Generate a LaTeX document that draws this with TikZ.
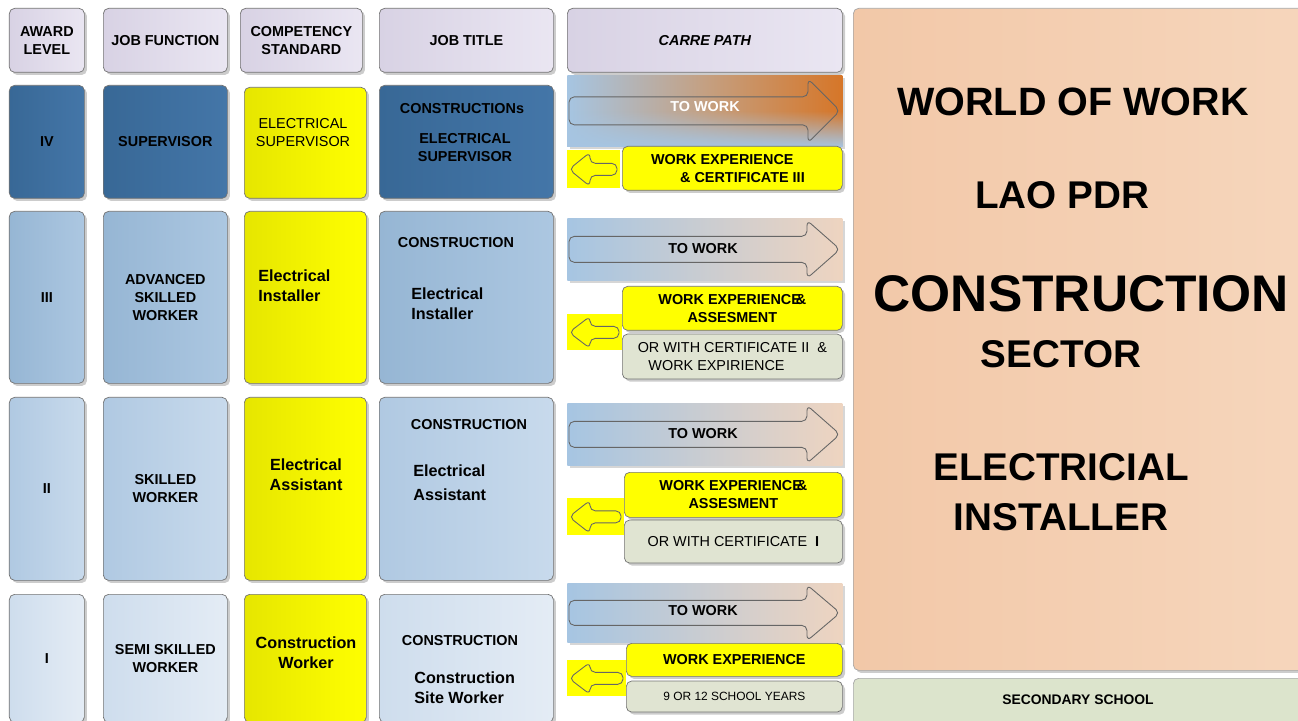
\documentclass[tikz,border=0pt]{standalone}
\usepackage{fontspec}
\setmainfont{Liberation Sans}
\usepackage{tikz}
\usetikzlibrary{positioning}
\usetikzlibrary{shadows}
\usetikzlibrary{fadings}

\definecolor{hdrdark}{RGB}{216,210,228}
\definecolor{hdrlight}{RGB}{234,230,242}
\definecolor{fourdark}{RGB}{56,104,150}
\definecolor{fourlight}{RGB}{68,118,168}
\definecolor{threedark}{RGB}{150,182,212}
\definecolor{threelight}{RGB}{172,199,225}
\definecolor{twodark}{RGB}{176,201,226}
\definecolor{twolight}{RGB}{200,218,236}
\definecolor{onedark}{RGB}{206,221,237}
\definecolor{onelight}{RGB}{228,236,245}
\definecolor{yeldark}{RGB}{230,230,0}
\definecolor{yellight}{RGB}{255,255,0}
\definecolor{bandblue}{RGB}{166,197,226}
\definecolor{bandpeach}{RGB}{238,212,192}
\definecolor{bandorange}{RGB}{214,118,40}
\definecolor{bandmid}{RGB}{196,160,130}
\definecolor{optgray}{RGB}{224,228,210}
\definecolor{peachdark}{RGB}{242,200,168}
\definecolor{peachlight}{RGB}{246,214,188}
\definecolor{sage}{RGB}{220,228,204}

\tikzset{
	basebox/.style={rectangle, anchor=north west, inner sep=0pt, rounded corners=3pt, draw=black!55, align=center, font=\bfseries\fontsize{8.2}{10.2}\selectfont, drop shadow={shadow xshift=1.5pt, shadow yshift=-1.5pt, fill=black!40, opacity=.5}},
	hdrbox/.style={basebox, left color=hdrdark, right color=hdrlight},
	fourbox/.style={basebox, left color=fourdark, right color=fourlight},
	threebox/.style={basebox, left color=threedark, right color=threelight},
	twobox/.style={basebox, left color=twodark, right color=twolight},
	onebox/.style={basebox, left color=onedark, right color=onelight},
	compbox/.style={basebox, left color=yeldark, right color=yellight},
	expbox/.style={basebox, fill=yellight},
	optbox/.style={basebox, fill=optgray, font=\fontsize{8.2}{10.2}\selectfont},
	band/.style={rectangle, anchor=north west, inner sep=0pt, left color=bandblue, right color=bandpeach, drop shadow={shadow xshift=1.5pt, shadow yshift=-1.5pt, fill=black!40, opacity=.4}},
	backsq/.style={rectangle, anchor=north west, inner sep=0pt, fill=yellight},
	arrowline/.style={draw=black!60, line width=0.5pt, rounded corners=3pt},
	celltxt/.style={inner sep=0pt, align=center, font=\bfseries\fontsize{8.2}{10.2}\selectfont},
	bigtxt/.style={inner sep=0pt, font=\bfseries\fontsize{22.5}{27}\selectfont},
}

\begin{document}
\begin{tikzpicture}

\useasboundingbox (0,0) rectangle (25.96,14.40);
\clip (0,0) rectangle (25.96,14.40);

%% column headers
\node at (0.18,14.24) [hdrbox, minimum width=1.50cm, minimum height=1.28cm] (hawd) {AWARD\\LEVEL};
\node at (2.06,14.24) [hdrbox, minimum width=2.48cm, minimum height=1.28cm] (hfun) {JOB FUNCTION};
\node at (4.80,14.24) [hdrbox, minimum width=2.44cm, minimum height=1.28cm] (hcmp) {COMPETENCY\\STANDARD};
\node at (7.58,14.24) [hdrbox, minimum width=3.48cm, minimum height=1.28cm] (httl) {JOB TITLE};
\node at (11.34,14.24) [hdrbox, minimum width=5.50cm, minimum height=1.28cm, font=\bfseries\itshape\fontsize{8.2}{10.2}\selectfont] (hpth) {CARRE PATH};

%% level IV
\node at (0.18,12.70) [fourbox, minimum width=1.50cm, minimum height=2.26cm] (a4) {IV};
\node at (2.06,12.70) [fourbox, minimum width=2.48cm, minimum height=2.26cm] (f4) {SUPERVISOR};
\node at (4.88,12.66) [compbox, minimum width=2.44cm, minimum height=2.22cm] (c4) {};
\node at (7.58,12.70) [fourbox, minimum width=3.48cm, minimum height=2.26cm] (t4) {};
\node at (6.06,11.74) [celltxt, font=\fontsize{8.2}{10.2}\selectfont] (c4a) {ELECTRICAL\\SUPERVISOR};
\node at (9.24,12.22) [celltxt] (t4a) {CONSTRUCTIONs};
\node at (9.30,11.45) [celltxt] (t4b) {ELECTRICAL\\SUPERVISOR};

%% level III
\node at (0.18,10.18) [threebox, minimum width=1.50cm, minimum height=3.44cm] (a3) {III};
\node at (2.06,10.18) [threebox, minimum width=2.48cm, minimum height=3.44cm] (f3) {ADVANCED\\SKILLED\\WORKER};
\node at (4.88,10.18) [compbox, minimum width=2.44cm, minimum height=3.44cm] (c3) {};
\node at (7.58,10.18) [threebox, minimum width=3.48cm, minimum height=3.44cm] (t3) {};
\node at (5.16,8.68) [celltxt, anchor=west, align=left, font=\bfseries\fontsize{9.2}{11.3}\selectfont] (c3a) {Electrical\\Installer};
\node at (9.12,9.54) [celltxt] (t3a) {CONSTRUCTION};
\node at (8.22,8.32) [celltxt, anchor=west, align=left, font=\bfseries\fontsize{9.2}{11.3}\selectfont] (t3b) {Electrical\\Installer};

%% level II
\node at (0.18,6.46) [twobox, minimum width=1.50cm, minimum height=3.66cm] (a2) {II};
\node at (2.06,6.46) [twobox, minimum width=2.48cm, minimum height=3.66cm] (f2) {SKILLED\\WORKER};
\node at (4.88,6.46) [compbox, minimum width=2.44cm, minimum height=3.66cm] (c2) {};
\node at (7.58,6.46) [twobox, minimum width=3.48cm, minimum height=3.66cm] (t2) {};
\node at (6.12,4.90) [celltxt, font=\bfseries\fontsize{9.2}{11.3}\selectfont] (c2a) {Electrical\\Assistant};
\node at (9.38,5.90) [celltxt] (t2a) {CONSTRUCTION};
\node at (8.26,4.74) [celltxt, anchor=west, align=left, font=\bfseries\fontsize{9.2}{11.3}\selectfont] (t2b) {Electrical\\[2.4pt]Assistant};

%% level I
\node at (0.18,2.52) [onebox, minimum width=1.50cm, minimum height=2.56cm] (a1) {I};
\node at (2.06,2.52) [onebox, minimum width=2.48cm, minimum height=2.56cm] (f1) {SEMI SKILLED\\WORKER};
\node at (4.88,2.52) [compbox, minimum width=2.44cm, minimum height=2.56cm] (c1) {};
\node at (7.58,2.52) [onebox, minimum width=3.48cm, minimum height=2.56cm] (t1) {};
\node at (6.12,1.34) [celltxt, font=\bfseries\fontsize{9.2}{11.3}\selectfont] (c1a) {Construction\\Worker};
\node at (9.20,1.58) [celltxt] (t1a) {CONSTRUCTION};
\node at (8.28,0.64) [celltxt, anchor=west, align=left, font=\bfseries\fontsize{9.2}{11.3}\selectfont] (t1b) {Construction\\Site Worker};

%% career path: level IV
\node at (11.34,12.90) [band, right color=bandorange, middle color=bandmid, minimum width=5.50cm, minimum height=1.42cm] (w4) {};
\fill [bandblue, path fading=north] (w4.south west) rectangle (w4.east);
\draw [arrowline] ([shift={(0.04,0.28)}]w4.west) -- ++(4.78,0) -- ++(0,0.36) -- ++(0.64,-0.64) -- ++(-0.64,-0.64) -- ++(0,0.36) -- ++(-4.78,0) -- cycle;
\node at (14.10,12.26) [celltxt, text=white] (w4t) {TO WORK};
\node at (11.34,11.40) [backsq, minimum width=1.06cm, minimum height=0.76cm] (b4) {};
\draw [arrowline] ([shift={(0.04,0)}]b4.west) -- ++(0.42,0.34) -- ++(0,-0.22) -- ++(0.54,0) -- ++(0,-0.24) -- ++(-0.54,0) -- ++(0,-0.22) -- cycle;
\node at (12.44,11.48) [expbox, minimum width=4.40cm, minimum height=0.88cm] (e4) {WORK EXPERIENCE\hspace*{1.4em}\\\hspace*{1.4em}\& CERTIFICATE III};

%% career path: level III
\node at (11.34,10.04) [band, minimum width=5.50cm, minimum height=1.24cm] (w3) {};
\draw [arrowline] ([shift={(0.04,0.26)}]w3.west) -- ++(4.76,0) -- ++(0,0.32) -- ++(0.66,-0.58) -- ++(-0.66,-0.58) -- ++(0,0.32) -- ++(-4.76,0) -- cycle;
\node at (14.06,9.42) [celltxt] (w3t) {TO WORK};
\node at (11.34,8.12) [backsq, minimum width=1.10cm, minimum height=0.72cm] (b3) {};
\draw [arrowline] ([shift={(0.04,0)}]b3.west) -- ++(0.42,0.32) -- ++(0,-0.20) -- ++(0.58,0) -- ++(0,-0.24) -- ++(-0.58,0) -- ++(0,-0.20) -- cycle;
\node at (12.44,8.68) [expbox, minimum width=4.40cm, minimum height=0.88cm] (e3) {WORK EXPERIENCE\hspace{-0.35em}\&\\ASSESMENT};
\node [optbox, below=0.06cm of e3.south west, anchor=north west, minimum width=4.40cm, minimum height=0.90cm] (o3) {OR WITH CERTIFICATE II \ \&\\WORK EXPIRIENCE\hspace*{2.2em}};

%% career path: level II
\node at (11.34,6.34) [band, minimum width=5.50cm, minimum height=1.24cm] (w2) {};
\draw [arrowline] ([shift={(0.04,0.26)}]w2.west) -- ++(4.76,0) -- ++(0,0.32) -- ++(0.66,-0.58) -- ++(-0.66,-0.58) -- ++(0,0.32) -- ++(-4.76,0) -- cycle;
\node at (14.06,5.72) [celltxt] (w2t) {TO WORK};
\node at (11.34,4.44) [backsq, minimum width=1.14cm, minimum height=0.74cm] (b2) {};
\draw [arrowline] ([shift={(0.04,0)}]b2.west) -- ++(0.42,0.33) -- ++(0,-0.21) -- ++(0.62,0) -- ++(0,-0.24) -- ++(-0.62,0) -- ++(0,-0.21) -- cycle;
\node at (12.48,4.96) [expbox, minimum width=4.36cm, minimum height=0.90cm] (e2) {WORK EXPERIENCE\hspace{-0.35em}\&\\ASSESMENT};
\node [optbox, below=0.04cm of e2.south west, anchor=north west, minimum width=4.36cm, minimum height=0.86cm] (o2) {OR WITH CERTIFICATE \ \textbf{I}};

%% career path: level I
\node at (11.34,2.74) [band, minimum width=5.50cm, minimum height=1.18cm] (w1) {};
\draw [arrowline] ([shift={(0.04,0.25)}]w1.west) -- ++(4.76,0) -- ++(0,0.31) -- ++(0.66,-0.56) -- ++(-0.66,-0.56) -- ++(0,0.31) -- ++(-4.76,0) -- cycle;
\node at (14.06,2.18) [celltxt] (w1t) {TO WORK};
\node at (11.34,1.20) [backsq, minimum width=1.18cm, minimum height=0.72cm] (b1) {};
\draw [arrowline] ([shift={(0.04,0)}]b1.west) -- ++(0.42,0.32) -- ++(0,-0.20) -- ++(0.66,0) -- ++(0,-0.24) -- ++(-0.66,0) -- ++(0,-0.20) -- cycle;
\node at (12.52,1.54) [expbox, minimum width=4.32cm, minimum height=0.66cm] (e1) {WORK EXPERIENCE};
\node [optbox, below=0.08cm of e1.south west, anchor=north west, minimum width=4.32cm, minimum height=0.62cm, font=\fontsize{6.8}{8}\selectfont] (o1) {9 OR 12 SCHOOL YEARS};

%% sector panel
\node at (17.06,14.24) [basebox, left color=peachdark, right color=peachlight, draw=black!35, minimum width=9.20cm, minimum height=13.24cm] (sect) {};
\node at (21.46,12.37) [bigtxt] (sect1) {WORLD OF WORK};
\node at (21.24,10.50) [bigtxt, font=\bfseries\fontsize{22}{26}\selectfont] (sect2) {LAO PDR};
\node at (21.62,8.52) [bigtxt, font=\bfseries\fontsize{29.3}{35}\selectfont] (sect3) {CONSTRUCTION};
\node at (21.22,7.31) [bigtxt, font=\bfseries\fontsize{22}{26}\selectfont] (sect4) {SECTOR};
\node at (21.22,5.06) [bigtxt, font=\bfseries\fontsize{22}{26}\selectfont] (sect5) {ELECTRICIAL};
\node at (21.22,4.06) [bigtxt, font=\bfseries\fontsize{22}{26}\selectfont] (sect6) {INSTALLER};

\node at (17.06,0.84) [basebox, fill=sage, draw=black!35, minimum width=9.20cm, minimum height=1.20cm] (school) {};
\node at (21.56,0.40) [celltxt, font=\bfseries\fontsize{7.9}{9.5}\selectfont] (schoolt) {SECONDARY SCHOOL};

\end{tikzpicture}
\end{document}
